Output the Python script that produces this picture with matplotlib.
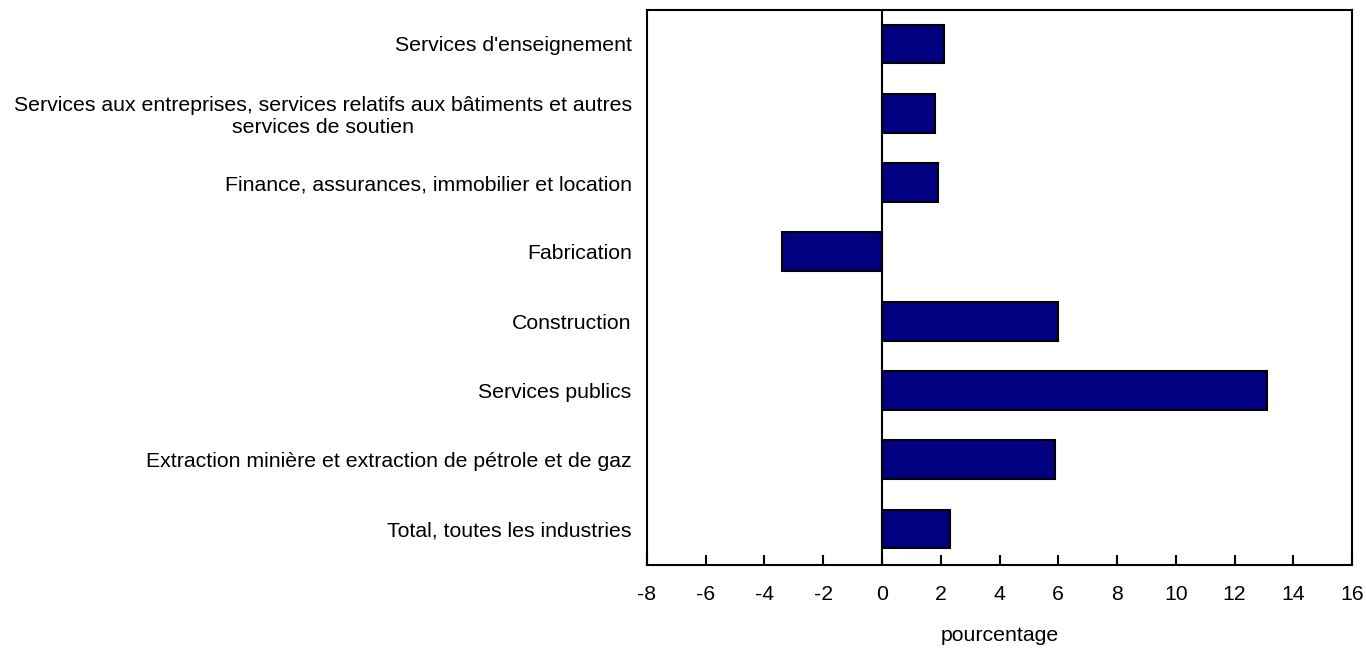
import matplotlib.pyplot as plt

plt.rcParams['font.family'] = ['Liberation Sans', 'DejaVu Sans']

categories = [
    "Total, toutes les industries",
    "Extraction minière et extraction de pétrole et de gaz",
    "Services publics",
    "Construction",
    "Fabrication",
    "Finance, assurances, immobilier et location",
    "Services aux entreprises, services relatifs aux bâtiments et autres\nservices de soutien",
    "Services d'enseignement",
]
values = [2.3, 5.9, 13.1, 6.0, -3.4, 1.9, 1.8, 2.1]
xticks = list(range(-8, 17, 2))

fig = plt.figure(figsize=(13.66, 6.48), dpi=100)
ax = fig.add_axes([0.4736, 0.128, 0.5162, 0.8565])

y = list(range(len(categories)))
ax.barh(y, values, height=0.56, color='#000080', edgecolor='black', linewidth=1.5, zorder=2)
ax.axvline(0, color='black', linewidth=1.5, zorder=3)

ax.set_xlim(-8, 16)
ax.set_ylim(-0.52, 7.49)
ax.set_xticks(xticks)
ax.set_xticklabels([str(t) for t in xticks], fontsize=15.3)
ax.tick_params(axis='x', direction='in', length=7, width=1.5, pad=14)
ax.set_yticks(y)
ax.set_yticklabels(categories, fontsize=15.3, multialignment='center')
ax.tick_params(axis='y', length=0, pad=11)
ax.set_xlabel('pourcentage', fontsize=15.3, labelpad=16)

for s in ax.spines.values():
    s.set_linewidth(1.5)
    s.set_color('black')

fig.savefig('out.png', dpi=100)
